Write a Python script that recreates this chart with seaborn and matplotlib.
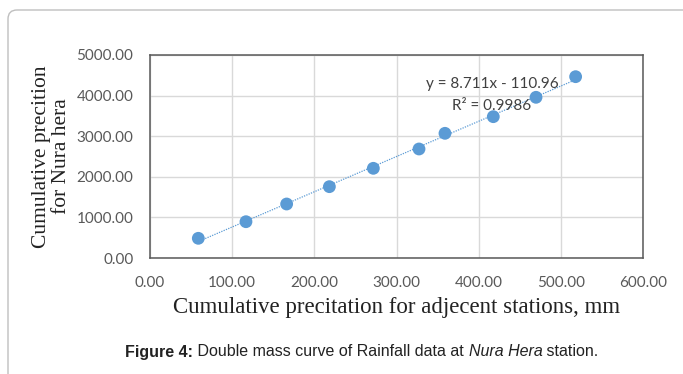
import numpy as np
import matplotlib
matplotlib.use("Agg")
import matplotlib.pyplot as plt
from matplotlib.patches import FancyBboxPatch
from matplotlib.transforms import IdentityTransform
import seaborn as sns

# cumulative rainfall, mm
adjacent = [58.8, 116.8, 166.3, 218.3, 271.8, 327.4, 359.0, 417.8, 469.8, 518.0]
nura_hera = [485, 894, 1330, 1757, 2209, 2685, 3071, 3481, 3958, 4466]
x_ticks = [0, 100, 200, 300, 400, 500, 600]
y_ticks = [0, 1000, 2000, 3000, 4000, 5000]
eq_text = "y = 8.711x - 110.96"
r2_text = "R² = 0.9986"

sns.set_style("white")
blue = "#5B9BD5"
tick_col = "#595959"

fig = plt.figure(figsize=(6.83, 3.74), dpi=100)
ax = fig.add_axes([150/683, 116/374, 493/683, 203/374])

sns.regplot(x=adjacent, y=nura_hera, ax=ax, ci=None, scatter=False, truncate=True,
            line_kws=dict(color=blue, lw=0.9, ls=(0, (1, 1))))
sns.scatterplot(x=adjacent, y=nura_hera, ax=ax, color=blue, s=85, edgecolor="none", zorder=3)

ax.set_xlim(0, 600)
ax.set_ylim(0, 5000)
ax.set_xticks(x_ticks)
ax.set_yticks(y_ticks)
ax.set_xticklabels([f"{v:.2f}" for v in x_ticks], fontfamily="Lato", fontsize=11, color=tick_col)
ax.set_yticklabels([f"{v:.2f}" for v in y_ticks], fontfamily="Lato", fontsize=11, color=tick_col)
ax.tick_params(axis="x", length=0, pad=13)
ax.tick_params(axis="y", length=0, pad=12)
ax.grid(True, color="#d9d9d9", lw=1)
ax.set_axisbelow(True)
for s in ax.spines.values():
    s.set_color("#595959")
    s.set_linewidth(1.1)

ax.text(416, 4290, eq_text, ha="center", va="center", fontfamily="Lato", fontsize=11, color="#404040")
ax.text(416, 3750, r2_text, ha="center", va="center", fontfamily="Lato", fontsize=11, color="#404040")

ax.set_xlabel("Cumulative precitation for adjecent stations, mm", fontfamily="Liberation Serif",
              fontsize=16.5, color="#222222", labelpad=5)
ax.set_ylabel("Cumulative precition\nfor Nura hera", fontfamily="Liberation Serif",
              fontsize=15.5, color="#222222", linespacing=1.1, labelpad=4)

# frame round the figure
frame = FancyBboxPatch((8, -40), 720, 404, boxstyle="round,pad=0,rounding_size=9",
                       transform=IdentityTransform(), fill=False, ec="#bfbfbf", lw=1)
fig.patches.append(frame)

# caption with mixed styles
renderer = fig.canvas.get_renderer()
parts = [("Figure 4:", "bold", "normal"), (" Double mass curve of Rainfall data at ", "normal", "normal"),
         ("Nura Hera", "normal", "italic"), (" station.", "normal", "normal")]
texts = []
for s, w, st in parts:
    t = fig.text(0, 22/374, s, fontfamily="Liberation Sans", fontsize=11.5, fontweight=w, fontstyle=st,
                 color="#222222", va="center", ha="left")
    texts.append(t)
widths = [t.get_window_extent(renderer).width for t in texts]
x0 = 362 - sum(widths) / 2
for t, w in zip(texts, widths):
    t.set_x(x0 / 683)
    x0 += w

fig.savefig("out.png", dpi=100)
